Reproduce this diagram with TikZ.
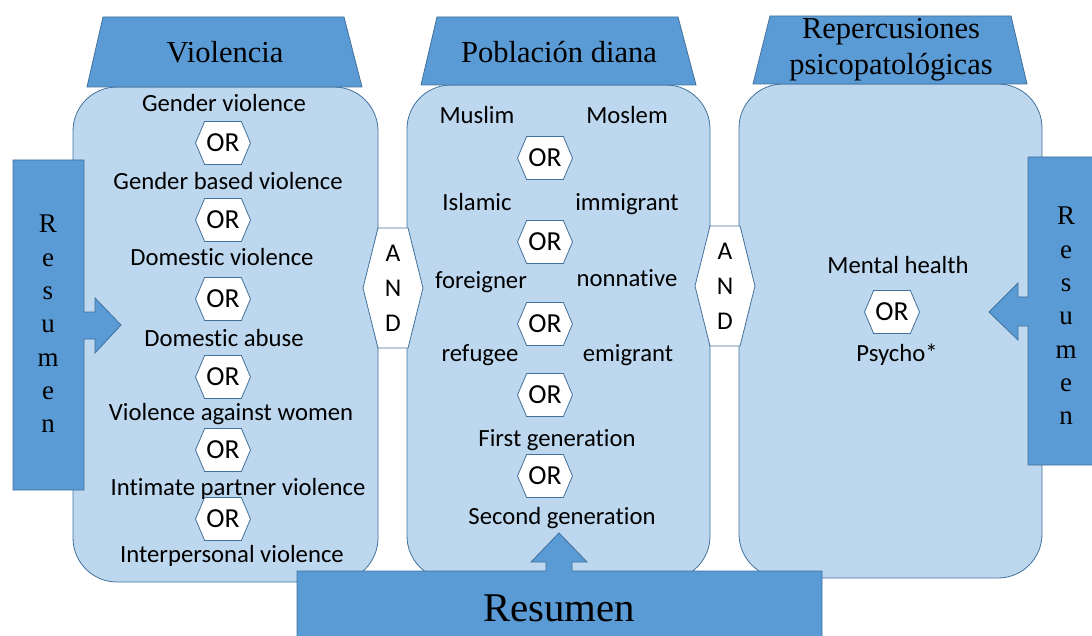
\documentclass[tikz,border=0pt]{standalone}
\usepackage{fontspec}
\setmainfont{Liberation Serif}
\newfontfamily\calibri[Ligatures=NoCommon]{Carlito}
\usetikzlibrary{shapes.symbols}
\definecolor{edgeblue}{RGB}{65,113,156}
\definecolor{midblue}{RGB}{91,155,213}
\definecolor{paleblue}{RGB}{189,215,238}
\tikzset{
  panel/.style={draw=edgeblue, fill=paleblue, line width=0.8pt, rounded corners=44pt},
  header/.style={draw=edgeblue, fill=midblue, line width=0.8pt},
  term/.style={font=\calibri\fontsize{24.7}{28}\selectfont, inner sep=0pt,
    text height=20pt, text depth=2pt},
  orbox/.style={signal, signal to=west and east, signal pointer angle=134,
    draw=edgeblue, fill=white, line width=0.8pt, minimum width=55pt,
    minimum height=43pt, inner sep=0pt, font=\calibri\fontsize{27.5}{30}\selectfont},
  andbox/.style={signal, signal to=west and east, signal pointer angle=152,
    draw=edgeblue, fill=white, line width=0.8pt, minimum width=60pt,
    minimum height=120pt, inner sep=0pt, align=center,
    font=\calibri\fontsize{25.5}{35}\selectfont},
  title/.style={font=\fontsize{30.5}{36}\selectfont, align=center, inner sep=0pt},
  vword/.style={font=\fontsize{27}{33.3}\selectfont, align=center, inner sep=0pt}
}
\begin{document}
\begin{tikzpicture}[x=1pt, y=-1pt]
\useasboundingbox (0,0) rectangle (1092,636);
\clip (0,0) rectangle (1092,636);

\draw [panel] (73,87) rectangle (378,582);
\draw [panel] (407,85) rectangle (710,580);
\draw [panel] (739,84) rectangle (1042,578);

\draw [header] (103,17) -- (344,17) -- (362,87) -- (87,87) -- cycle;
\draw [header] (437,17) -- (678,17) -- (696,85) -- (421,85) -- cycle;
\draw [header] (770,16) -- (1011,16) -- (1027,84) -- (753,84) -- cycle;

\node[title] (h1) at (225,52) {Violencia};
\node[title] (h2) at (559,52) {Población diana};
\node[title] (h3) at (891,50) {Repercusiones\\psicopatológicas};

\node[andbox] (and1) at (393,288) {A\\N\\D};
\node[andbox] (and2) at (725,286) {A\\N\\D};

\node[term] (v1) at (224,103) {Gender violence};
\node[orbox] (o1) at (223,143) {OR};
\node[term] (v2) at (228,181) {Gender based violence};
\node[orbox] (o2) at (223,220) {OR};
\node[term] (v3) at (222,257) {Domestic violence};
\node[orbox] (o3) at (223,299) {OR};
\node[term] (v4) at (224,337) {Domestic abuse};
\node[orbox] (o4) at (223,377) {OR};
\node[term] (v5) at (231,411) {Violence against women};
\node[orbox] (o5) at (223,450) {OR};
\node[term] (v6) at (238,486) {Intimate partner violence};
\node[orbox] (o6) at (223,519) {OR};
\node[term] (v7) at (232,553) {Interpersonal violence};

\node[term] (p1) at (477,115) {Muslim};
\node[term] (p2) at (627,115) {Moslem};
\node[orbox] (o7) at (545,158) {OR};
\node[term] (p3) at (477,202) {Islamic};
\node[term] (p4) at (627,202) {immigrant};
\node[orbox] (o8) at (545,242) {OR};
\node[term] (p5) at (481,279) {foreigner};
\node[term] (p6) at (627,278) {nonnative};
\node[orbox] (o9) at (545,324) {OR};
\node[term] (p7) at (480,352) {refugee};
\node[term] (p8) at (628,352) {emigrant};
\node[orbox] (o10) at (545,395) {OR};
\node[term] (p9) at (557,437) {First generation};
\node[orbox] (o11) at (545,476) {OR};
\node[term] (p10) at (562,515) {Second generation};

\node[term] (r1) at (898,265) {Mental health};
\node[orbox] (o12) at (892,312) {OR};
\node[term] (r2) at (897,352) {Psycho*};

\draw [header] (13,160) -- (84,160) -- (84,312) -- (95,312) -- (95,298) -- (121,325)
  -- (95,353) -- (95,339) -- (84,339) -- (84,490) -- (13,490) -- cycle;
\draw [header] (1100,157) -- (1028,157) -- (1028,297) -- (1018,297) -- (1018,283) -- (989,312)
  -- (1018,340) -- (1018,326) -- (1028,326) -- (1028,465) -- (1100,465) -- cycle;
\draw [header] (297,571) -- (546,571) -- (546,562) -- (531,562) -- (559,533) -- (587,562)
  -- (572,562) -- (572,571) -- (822,571) -- (822,645) -- (297,645) -- cycle;

\node[vword] (s1) at (48,324) {R\\e\\s\\u\\m\\e\\n};
\node[vword] (s2) at (1066,316) {R\\e\\s\\u\\m\\e\\n};
\node[font=\fontsize{40.8}{44}\selectfont, inner sep=0pt] (s3) at (559,608) {Resumen};
\end{tikzpicture}
\end{document}
